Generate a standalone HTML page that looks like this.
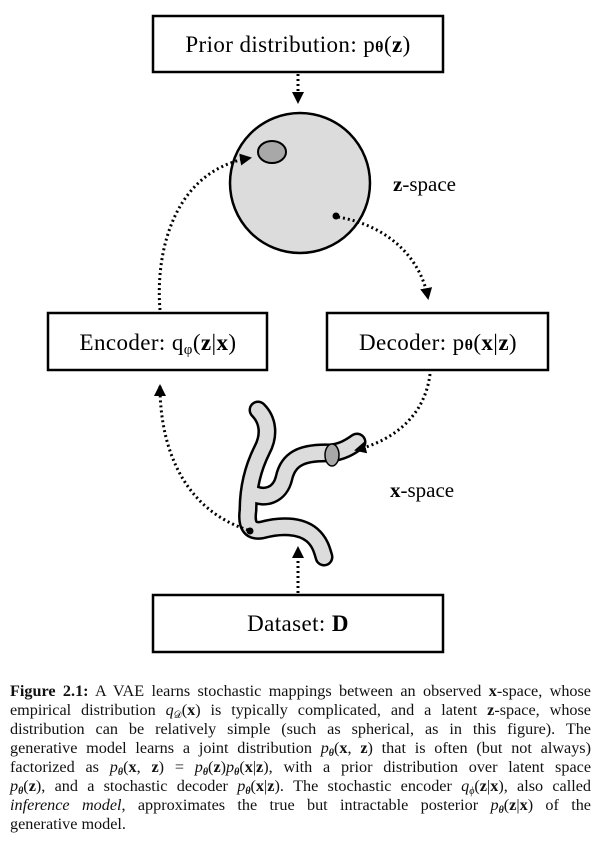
<!DOCTYPE html>
<html><head><meta charset="utf-8"><style>
body{margin:0;background:#fff;width:614px;height:846px;overflow:hidden;position:relative;font-family:"Liberation Serif",serif}
.cap{position:absolute;left:10px;width:581px;font-size:16.2px;line-height:19px;color:#111}
.l{text-align:justify;text-align-last:justify;height:19px;white-space:nowrap}
sub{font-size:10px;line-height:0;vertical-align:-3px}
</style></head><body>
<svg width="614" height="670" style="position:absolute;left:0;top:0" font-family="Liberation Serif, serif">
<defs>
<marker id="b" markerWidth="12" markerHeight="12" refX="10" refY="6" orient="auto" markerUnits="userSpaceOnUse"><path d="M0,0L12,6L0,12z" fill="#000"/></marker></defs>
<g fill="#fff" stroke="#000" stroke-width="2.5">
<rect x="153" y="16" width="290" height="56"/>
<rect x="48" y="313" width="219" height="57"/>
<rect x="327" y="313" width="221" height="57"/>
<rect x="153" y="595" width="290" height="57"/>
</g>
<g font-size="23" text-anchor="middle" letter-spacing="0.4">
<text x="298" y="52">Prior distribution: p<tspan font-weight="bold" font-size="16">θ</tspan>(<tspan font-weight="bold">z</tspan>)</text>
<text x="158" y="350">Encoder: q<tspan font-size="15" dy="4">φ</tspan><tspan dy="-4">(</tspan><tspan font-weight="bold">z</tspan>|<tspan font-weight="bold">x</tspan>)</text>
<text x="438" y="350">Decoder: p<tspan font-weight="bold" font-size="16">θ</tspan>(<tspan font-weight="bold">x</tspan>|<tspan font-weight="bold">z</tspan>)</text>
<text x="298" y="631">Dataset: <tspan font-weight="bold">D</tspan></text>
</g>
<g font-size="21"><text x="393" y="191"><tspan font-weight="bold">z</tspan>-space</text><text x="390" y="497"><tspan font-weight="bold">x</tspan>-space</text></g>
<circle cx="300" cy="183" r="70" fill="#dcdcdd" stroke="#000" stroke-width="2.5"/>
<ellipse cx="272" cy="152" rx="14" ry="11" fill="#a8a8a8" stroke="#000" stroke-width="2"/>
<circle cx="336" cy="216" r="3.5" fill="#000"/>
<g fill="none" stroke-linecap="round" stroke-linejoin="round">
<path d="M258,410 C268,420 270,435 262,450 C252,470 248,490 248,510 C246,525 250,532 262,530 C280,525 300,525 312,535 C320,542 322,550 324,557 M252,493 C265,500 280,495 284,478 C288,460 300,452 330,453 C342,452 350,447 357,442" stroke="#000" stroke-width="19"/>
<path d="M258,410 C268,420 270,435 262,450 C252,470 248,490 248,510 C246,525 250,532 262,530 C280,525 300,525 312,535 C320,542 322,550 324,557 M252,493 C265,500 280,495 284,478 C288,460 300,452 330,453 C342,452 350,447 357,442" stroke="#dcdcdd" stroke-width="14"/>
</g>
<ellipse cx="332" cy="455" rx="7" ry="11" fill="#a8a8a8" stroke="#000" stroke-width="1.5"/>
<circle cx="250" cy="531" r="3.5" fill="#000"/>
<g fill="none" stroke="#000" stroke-width="3" stroke-dasharray="2 3">
<path d="M298,74 L298,102" marker-end="url(#b)"/>
<path d="M338,217 C385,225 420,255 428,298" marker-end="url(#b)"/>
<path d="M430,374 C425,415 395,440 356,450" marker-end="url(#b)"/>
<path d="M160,310 C155,250 175,170 250,158" marker-end="url(#b)"/>
<path d="M248,530 C185,510 160,450 160,386" marker-end="url(#b)"/>
<path d="M298,593 L298,548" marker-end="url(#b)"/>
</g>
</svg>
<div class="cap" style="top:682px">
<div class="l"><b>Figure 2.1:</b> A VAE learns stochastic mappings between an observed <b>x</b>-space, whose</div>
<div class="l">empirical distribution <i>q</i><sub>𝒟</sub>(<b>x</b>) is typically complicated, and a latent <b>z</b>-space, whose</div>
<div class="l">distribution can be relatively simple (such as spherical, as in this figure). The</div>
<div class="l">generative model learns a joint distribution <i>p</i><sub><b><i>θ</i></b></sub>(<b>x</b>, <b>z</b>) that is often (but not always)</div>
<div class="l">factorized as <i>p</i><sub><b><i>θ</i></b></sub>(<b>x</b>, <b>z</b>) = <i>p</i><sub><b><i>θ</i></b></sub>(<b>z</b>)<i>p</i><sub><b><i>θ</i></b></sub>(<b>x</b>|<b>z</b>), with a prior distribution over latent space</div>
<div class="l"><i>p</i><sub><b><i>θ</i></b></sub>(<b>z</b>), and a stochastic decoder <i>p</i><sub><b><i>θ</i></b></sub>(<b>x</b>|<b>z</b>). The stochastic encoder <i>q</i><sub><i>ϕ</i></sub>(<b>z</b>|<b>x</b>), also called</div>
<div class="l"><i>inference model</i>, approximates the true but intractable posterior <i>p</i><sub><b><i>θ</i></b></sub>(<b>z</b>|<b>x</b>) of the</div>
<div style="height:19px">generative model.</div>
</div>
</body></html>
